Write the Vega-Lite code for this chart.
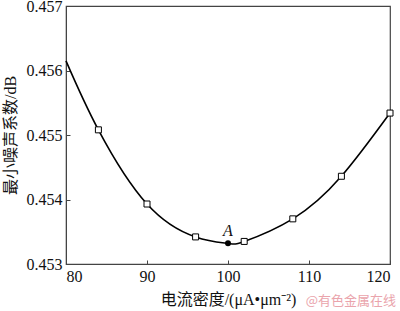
{
  "$schema": "https://vega.github.io/schema/vega-lite/v6.json",
  "width": 324,
  "height": 258,
  "autosize": {"type": "none"},
  "padding": {"left": 66, "top": 6, "right": 10, "bottom": 47},
  "background": "white",
  "config": {
    "view": {"stroke": "#444", "strokeWidth": 1.2},
    "font": "Liberation Serif, Noto Sans CJK SC",
    "axis": {
      "labelFont": "Liberation Serif",
      "labelFontSize": 16,
      "labelColor": "#111",
      "titleFont": "Liberation Serif, Noto Sans CJK SC",
      "titleFontSize": 16,
      "titleFontWeight": "normal",
      "titleColor": "#111",
      "domainColor": "#444",
      "tickColor": "#444",
      "tickSize": -4,
      "grid": false
    }
  },
  "datasets": {
    "curve": [
      {"x": 80, "y": 0.45615},
      {"x": 84, "y": 0.45508},
      {"x": 90, "y": 0.45393},
      {"x": 96, "y": 0.45342},
      {"x": 100, "y": 0.45332},
      {"x": 102, "y": 0.45335},
      {"x": 108, "y": 0.4537},
      {"x": 114, "y": 0.45436},
      {"x": 120, "y": 0.45534}
    ],
    "markers": [
      {"x": 84, "y": 0.45508},
      {"x": 90, "y": 0.45393},
      {"x": 96, "y": 0.45342},
      {"x": 102, "y": 0.45335},
      {"x": 108, "y": 0.4537},
      {"x": 114, "y": 0.45436},
      {"x": 120, "y": 0.45534}
    ],
    "pointA": [{"x": 100, "y": 0.45332, "label": "A"}],
    "mark": [{"x": 120, "y": 0.453, "label": "@有色金属在线"}]
  },
  "encoding": {
    "x": {
      "field": "x", "type": "quantitative",
      "scale": {"domain": [80, 120], "nice": false},
      "axis": {"values": [80, 90, 100, 110, 120], "title": "电流密度/(μA•μm⁻²)", "labelPadding": 8, "titlePadding": 7}
    },
    "y": {
      "field": "y", "type": "quantitative",
      "scale": {"domain": [0.453, 0.457], "nice": false, "zero": false},
      "axis": {"values": [0.453, 0.454, 0.455, 0.456, 0.457], "format": ".3f", "title": "最小噪声系数/dB", "labelPadding": 8, "titlePadding": 8}
    }
  },
  "layer": [
    {
      "data": {"name": "curve"},
      "mark": {"type": "line", "interpolate": "natural", "color": "black", "strokeWidth": 1.6}
    },
    {
      "data": {"name": "markers"},
      "mark": {"type": "point", "shape": "square", "size": 36, "filled": true, "fill": "white", "opacity": 1, "fillOpacity": 1, "stroke": "black", "strokeWidth": 1}
    },
    {
      "data": {"name": "pointA"},
      "mark": {"type": "point", "shape": "circle", "size": 36, "filled": true, "opacity": 1, "color": "black"}
    },
    {
      "data": {"name": "pointA"},
      "mark": {"type": "text", "dy": -12, "fontStyle": "italic", "fontSize": 16, "font": "Liberation Serif", "color": "#111"},
      "encoding": {"text": {"field": "label"}}
    },
    {
      "data": {"name": "mark"},
      "mark": {"type": "text", "align": "right", "dy": 37, "dx": 6, "fontSize": 13, "font": "Noto Sans CJK SC", "color": "#eaa4ac"},
      "encoding": {"text": {"field": "label"}}
    }
  ]
}
